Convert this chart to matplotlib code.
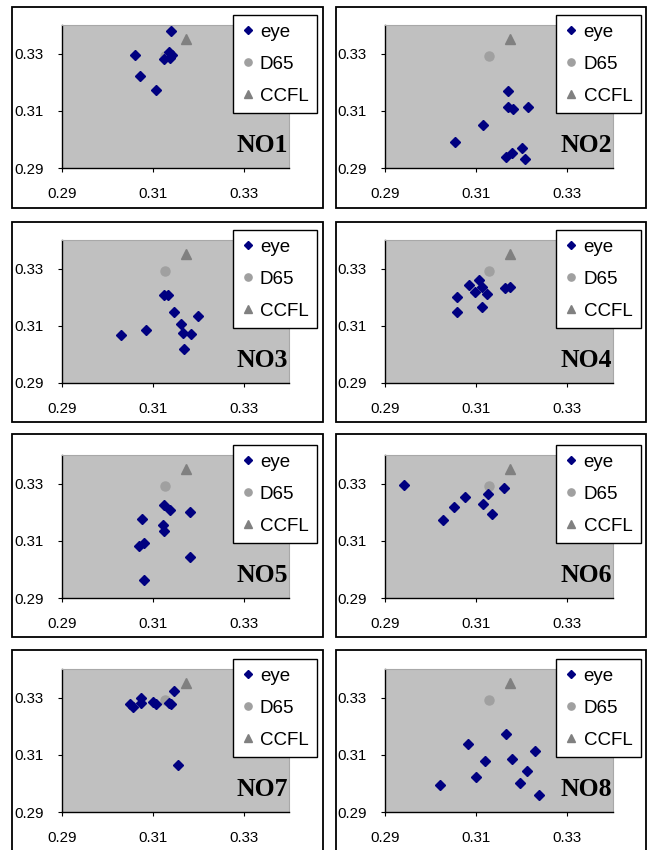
import matplotlib
matplotlib.use("Agg")
import matplotlib.pyplot as plt
from matplotlib.patches import Rectangle

# Chromaticity (x, y) of the eye readings for each observer
no1_x = [0.3140, 0.3060, 0.3071, 0.3108, 0.3135, 0.3143, 0.3124, 0.3137]
no1_y = [0.3378, 0.3296, 0.3221, 0.3173, 0.3307, 0.3295, 0.3282, 0.3284]

no2_x = [0.3169, 0.3169, 0.3181, 0.3214, 0.3116, 0.3054, 0.3201, 0.3178, 0.3165, 0.3206]
no2_y = [0.3169, 0.3115, 0.3108, 0.3113, 0.3050, 0.2991, 0.2971, 0.2951, 0.2938, 0.2932]

no3_x = [0.3124, 0.3134, 0.3147, 0.3200, 0.3162, 0.3166, 0.3184, 0.3169, 0.3084, 0.3029]
no3_y = [0.3206, 0.3208, 0.3147, 0.3136, 0.3107, 0.3075, 0.3072, 0.3018, 0.3084, 0.3069]

no4_x = [0.3107, 0.3085, 0.3112, 0.3097, 0.3123, 0.3164, 0.3174, 0.3058, 0.3112, 0.3058]
no4_y = [0.3261, 0.3243, 0.3237, 0.3219, 0.3212, 0.3232, 0.3234, 0.3199, 0.3165, 0.3150]

no5_x = [0.3125, 0.3138, 0.3183, 0.3077, 0.3123, 0.3124, 0.3080, 0.3070, 0.3182, 0.3081]
no5_y = [0.3225, 0.3206, 0.3199, 0.3177, 0.3155, 0.3136, 0.3094, 0.3082, 0.3045, 0.2962]

no6_x = [0.2942, 0.3160, 0.3076, 0.3125, 0.3115, 0.3051, 0.3135, 0.3027]
no6_y = [0.3295, 0.3285, 0.3254, 0.3263, 0.3227, 0.3218, 0.3195, 0.3174]

no7_x = [0.3050, 0.3057, 0.3075, 0.3075, 0.3101, 0.3106, 0.3136, 0.3140, 0.3146, 0.3156]
no7_y = [0.3277, 0.3268, 0.3298, 0.3280, 0.3284, 0.3277, 0.3280, 0.3278, 0.3324, 0.3065]

no8_x = [0.3165, 0.3083, 0.3228, 0.3119, 0.3178, 0.3211, 0.3100, 0.3197, 0.3021, 0.3237]
no8_y = [0.3174, 0.3138, 0.3112, 0.3080, 0.3084, 0.3043, 0.3024, 0.3003, 0.2993, 0.2959]

# Reference white points
d65_x, d65_y = 0.3127, 0.3290
ccfl_x, ccfl_y = 0.3174, 0.3352

panel_names = ["NO1", "NO2", "NO3", "NO4", "NO5", "NO6", "NO7", "NO8"]
panel_xs = [no1_x, no2_x, no3_x, no4_x, no5_x, no6_x, no7_x, no8_x]
panel_ys = [no1_y, no2_y, no3_y, no4_y, no5_y, no6_y, no7_y, no8_y]

tick_values = [0.29, 0.31, 0.33]
tick_labels = ["0.29", "0.31", "0.33"]
series_labels = ["eye", "D65", "CCFL"]

W, H = 649, 850
fig = plt.figure(figsize=(W / 100, H / 100), dpi=100)
fig.patch.set_facecolor("white")

col_left = [62, 385]
col_width = [227, 228]
row_top = [25, 240, 455, 669]
row_bottom = [168, 383, 598, 812]

frame_x = [(12, 323), (336, 646)]
frame_y = [(7, 208), (222, 422), (434, 637), (650, 862)]

sans = ["Liberation Sans", "DejaVu Sans"]

for i, name in enumerate(panel_names):
    r, c = divmod(i, 2)
    # outer frame of each chart
    fx0, fx1 = frame_x[c]
    fy0, fy1 = frame_y[r]
    fig.add_artist(Rectangle((fx0 / W, 1 - fy1 / H), (fx1 - fx0) / W, (fy1 - fy0) / H,
                             transform=fig.transFigure, fill=False,
                             edgecolor="black", linewidth=1.3, zorder=0))

    left = col_left[c] / W
    bottom = 1 - row_bottom[r] / H
    width = col_width[c] / W
    height = (row_bottom[r] - row_top[r]) / H
    ax = fig.add_axes([left, bottom, width, height])
    ax.set_facecolor("#C0C0C0")

    ax.plot(panel_xs[i], panel_ys[i], linestyle="none", marker="D", markersize=5.2,
            color="#000080", markeredgecolor="#000080", label=series_labels[0], zorder=3)
    ax.plot([d65_x], [d65_y], linestyle="none", marker="o", markersize=6.5,
            color="#A0A0A0", markeredgecolor="#A0A0A0", label=series_labels[1], zorder=2)
    ax.plot([ccfl_x], [ccfl_y], linestyle="none", marker="^", markersize=6.5,
            color="#808080", markeredgecolor="#808080", label=series_labels[2], zorder=2)

    ax.set_xlim(0.29, 0.34)
    ax.set_ylim(0.29, 0.34)
    ax.set_xticks(tick_values)
    ax.set_xticklabels(tick_labels)
    ax.set_yticks(tick_values)
    ax.set_yticklabels(tick_labels)
    for lab in ax.get_xticklabels() + ax.get_yticklabels():
        lab.set_fontfamily(sans)
        lab.set_fontsize(10.8)
    ax.tick_params(axis="both", direction="out", length=3, width=0.8, color="black")
    ax.tick_params(axis="x", pad=10.5)
    ax.tick_params(axis="y", pad=10)

    ax.spines["left"].set_color("black")
    ax.spines["bottom"].set_color("black")
    ax.spines["left"].set_linewidth(1.0)
    ax.spines["bottom"].set_linewidth(1.0)
    for s in ("top", "right"):
        ax.spines[s].set_color("#A8A8A8")
        ax.spines[s].set_linewidth(0.8)

    ax.text(0.995, 0.11, name, transform=ax.transAxes, ha="right", va="baseline",
            fontfamily=["Liberation Serif", "DejaVu Serif"], fontweight="bold",
            fontsize=18.5, color="black", zorder=4)

    leg = ax.legend(loc="upper left", bbox_to_anchor=(0.752, 1.07), borderaxespad=0,
                    frameon=True, fancybox=False, framealpha=1, edgecolor="black",
                    prop={"family": sans, "size": 13.5}, handlelength=0.7,
                    handletextpad=0.3, labelspacing=0.8, borderpad=0.45,
                    markerscale=0.8)
    leg.get_frame().set_linewidth(1.0)
    leg.set_zorder(5)

fig.savefig("out.png", dpi=100, facecolor="white")
